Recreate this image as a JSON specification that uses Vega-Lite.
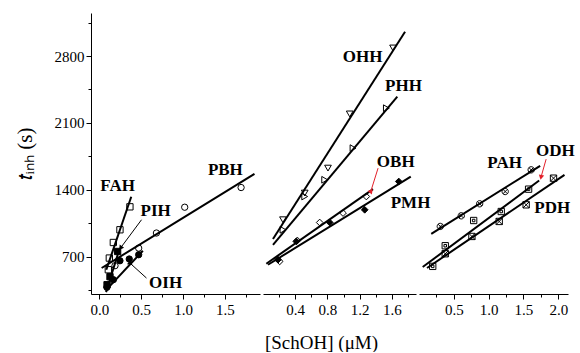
{
  "$schema": "https://vega.github.io/schema/vega-lite/v6.json",
  "padding": {"left": 14, "top": 13, "right": 0, "bottom": 0},
  "spacing": 3,
  "bounds": "flush",
  "config": {
    "view": {"stroke": null},
    "axis": {"grid": false, "domainColor": "black", "tickColor": "black", "labelColor": "black", "titleColor": "black", "labelFont": "Liberation Serif", "titleFont": "Liberation Serif", "labelFontSize": 15, "titleFontWeight": "normal", "domainWidth": 1, "tickWidth": 1}
  },
  "datasets": {
    "points": [
      {"panel": 1, "series": "FAH", "x": 0.107, "y": 564},
      {"panel": 1, "series": "FAH", "x": 0.119, "y": 686},
      {"panel": 1, "series": "FAH", "x": 0.167, "y": 849},
      {"panel": 1, "series": "FAH", "x": 0.246, "y": 982},
      {"panel": 1, "series": "FAH", "x": 0.365, "y": 1222},
      {"panel": 1, "series": "PIH", "x": 0.092, "y": 407},
      {"panel": 1, "series": "PIH", "x": 0.127, "y": 491},
      {"panel": 1, "series": "PIH", "x": 0.218, "y": 755},
      {"panel": 1, "series": "PBH", "x": 0.187, "y": 606},
      {"panel": 1, "series": "PBH", "x": 0.47, "y": 790},
      {"panel": 1, "series": "PBH", "x": 0.682, "y": 948},
      {"panel": 1, "series": "PBH", "x": 1.02, "y": 1218},
      {"panel": 1, "series": "PBH", "x": 1.694, "y": 1424},
      {"panel": 1, "series": "OIH", "x": 0.09, "y": 380},
      {"panel": 1, "series": "OIH", "x": 0.167, "y": 460},
      {"panel": 1, "series": "OIH", "x": 0.246, "y": 658},
      {"panel": 1, "series": "OIH", "x": 0.357, "y": 676},
      {"panel": 1, "series": "OIH", "x": 0.47, "y": 721},
      {"panel": 2, "series": "OHH", "x": 0.248, "y": 1087},
      {"panel": 2, "series": "OHH", "x": 0.518, "y": 1366},
      {"panel": 2, "series": "OHH", "x": 0.807, "y": 1627},
      {"panel": 2, "series": "OHH", "x": 1.077, "y": 2194},
      {"panel": 2, "series": "OHH", "x": 1.615, "y": 2884},
      {"panel": 2, "series": "PHH", "x": 0.248, "y": 982},
      {"panel": 2, "series": "PHH", "x": 0.518, "y": 1330},
      {"panel": 2, "series": "PHH", "x": 0.766, "y": 1505},
      {"panel": 2, "series": "PHH", "x": 1.118, "y": 1836},
      {"panel": 2, "series": "PHH", "x": 1.532, "y": 2254},
      {"panel": 2, "series": "OBH", "x": 0.207, "y": 651},
      {"panel": 2, "series": "OBH", "x": 0.426, "y": 870},
      {"panel": 2, "series": "OBH", "x": 0.704, "y": 1058},
      {"panel": 2, "series": "OBH", "x": 0.994, "y": 1157},
      {"panel": 2, "series": "OBH", "x": 1.283, "y": 1330},
      {"panel": 2, "series": "PMH", "x": 0.186, "y": 669},
      {"panel": 2, "series": "PMH", "x": 0.414, "y": 860},
      {"panel": 2, "series": "PMH", "x": 0.829, "y": 1058},
      {"panel": 2, "series": "PMH", "x": 1.263, "y": 1191},
      {"panel": 2, "series": "PMH", "x": 1.686, "y": 1487},
      {"panel": 3, "series": "PAH", "x": 0.306, "y": 1017},
      {"panel": 3, "series": "PAH", "x": 0.607, "y": 1128},
      {"panel": 3, "series": "PAH", "x": 0.871, "y": 1254},
      {"panel": 3, "series": "PAH", "x": 1.238, "y": 1382},
      {"panel": 3, "series": "PAH", "x": 1.611, "y": 1609},
      {"panel": 3, "series": "ODH", "x": 0.197, "y": 599},
      {"panel": 3, "series": "ODH", "x": 0.377, "y": 815},
      {"panel": 3, "series": "ODH", "x": 0.785, "y": 1079},
      {"panel": 3, "series": "ODH", "x": 1.181, "y": 1173},
      {"panel": 3, "series": "ODH", "x": 1.574, "y": 1407},
      {"panel": 3, "series": "PDH", "x": 0.377, "y": 731},
      {"panel": 3, "series": "PDH", "x": 0.76, "y": 912},
      {"panel": 3, "series": "PDH", "x": 1.152, "y": 1069},
      {"panel": 3, "series": "PDH", "x": 1.539, "y": 1243},
      {"panel": 3, "series": "PDH", "x": 1.932, "y": 1522}
    ],
    "lines": [
      {"panel": 1, "series": "FAH", "x": 0.083, "y": 564},
      {"panel": 1, "series": "FAH", "x": 0.381, "y": 1327},
      {"panel": 1, "series": "PIH", "x": 0.08, "y": 330},
      {"panel": 1, "series": "PIH", "x": 0.24, "y": 780},
      {"panel": 1, "series": "PBH", "x": 0.027, "y": 582},
      {"panel": 1, "series": "PBH", "x": 1.854, "y": 1567},
      {"panel": 1, "series": "OIH", "x": 0.107, "y": 376},
      {"panel": 1, "series": "OIH", "x": 0.52, "y": 763},
      {"panel": 2, "series": "OHH", "x": 0.124, "y": 885},
      {"panel": 2, "series": "OHH", "x": 1.764, "y": 3054},
      {"panel": 2, "series": "PHH", "x": 0.124, "y": 825},
      {"panel": 2, "series": "PHH", "x": 1.668, "y": 2375},
      {"panel": 2, "series": "OBH", "x": 0.041, "y": 627},
      {"panel": 2, "series": "OBH", "x": 1.366, "y": 1407},
      {"panel": 2, "series": "PMH", "x": 0.062, "y": 616},
      {"panel": 2, "series": "PMH", "x": 1.835, "y": 1539},
      {"panel": 3, "series": "PAH", "x": 0.176, "y": 940},
      {"panel": 3, "series": "PAH", "x": 1.74, "y": 1651},
      {"panel": 3, "series": "ODH", "x": 0.053, "y": 592},
      {"panel": 3, "series": "ODH", "x": 1.726, "y": 1497},
      {"panel": 3, "series": "PDH", "x": 0.115, "y": 582},
      {"panel": 3, "series": "PDH", "x": 2.09, "y": 1557}
    ],
    "arrows": [
      {"panel": 1, "series": "PIH", "x": 0.504, "y": 1087, "x2": 0.258, "y2": 797},
      {"panel": 1, "series": "OIH", "x": 0.563, "y": 477, "x2": 0.365, "y2": 634},
      {"panel": 2, "series": "OBH", "x": 1.429, "y": 1627, "x2": 1.338, "y2": 1382},
      {"panel": 3, "series": "ODH", "x": 1.826, "y": 1721, "x2": 1.755, "y2": 1539}
    ],
    "labels": [
      {"panel": 1, "label": "FAH", "x": 0.218, "y": 1437},
      {"panel": 1, "label": "PIH", "x": 0.673, "y": 1175},
      {"panel": 1, "label": "PBH", "x": 1.506, "y": 1609},
      {"panel": 1, "label": "OIH", "x": 0.792, "y": 423},
      {"panel": 2, "label": "OHH", "x": 1.238, "y": 2793},
      {"panel": 2, "label": "PHH", "x": 1.745, "y": 2482},
      {"panel": 2, "label": "OBH", "x": 1.648, "y": 1693},
      {"panel": 2, "label": "PMH", "x": 1.832, "y": 1259},
      {"panel": 3, "label": "PAH", "x": 1.229, "y": 1679},
      {"panel": 3, "label": "ODH", "x": 1.96, "y": 1810},
      {"panel": 3, "label": "PDH", "x": 1.913, "y": 1209}
    ]
  },
  "hconcat": [
    {
      "width": 169, "height": 281,
      "encoding": {
        "x": {"field": "x", "type": "quantitative", "scale": {"domain": [-0.1, 1.92], "nice": false, "zero": false},
              "axis": {"title": null, "values": [0, 0.25, 0.5, 0.75, 1, 1.25, 1.5, 1.75], "labelExpr": "datum.value % 0.5 === 0 ? format(datum.value, '.1f') : ''", "tickSize": {"condition": {"test": "datum.value % 0.5 === 0", "value": 5}, "value": 3}, "labelPadding": 3}},
        "y": {"field": "y", "type": "quantitative", "scale": {"domain": [310, 3250], "nice": false, "zero": false},
              "axis": {"title": "𝑡ᵢₙₕ (s)", "titleFontSize": 21, "titleX": -66, "titleBaseline": "middle", "values": [350, 700, 1050, 1400, 1750, 2100, 2450, 2800, 3150], "labelExpr": "datum.value % 700 === 0 ? format(datum.value, 'd') : ''", "tickSize": {"condition": {"test": "datum.value % 700 === 0", "value": 5}, "value": 3}, "labelPadding": 2}}
      },
      "layer": [
        {"data": {"name": "lines"}, "transform": [{"filter": "datum.panel === 1"}], "mark": {"type": "line", "color": "black", "strokeWidth": 2}, "encoding": {"detail": {"field": "series"}}},
        {"data": {"name": "points"}, "transform": [{"filter": "datum.panel === 1"}], "mark": {"type": "point", "stroke": "black", "strokeWidth": 1, "opacity": 1, "size": 40},
         "encoding": {
           "shape": {"field": "series", "type": "nominal", "legend": null, "scale": {"domain": ["FAH", "PIH", "PBH", "OIH", "OHH", "PHH", "OBH", "PMH", "PAH", "ODH", "PDH"], "range": ["square", "square", "circle", "circle", "triangle-down", "triangle-right", "diamond", "diamond", "M-1,0A1,1,0,1,0,1,0A1,1,0,1,0,-1,0ZM-0.71,-0.71L0.71,0.71M0.71,-0.71L-0.71,0.71", "M-1,-1H1V1H-1ZM-0.4,-0.4H0.4V0.4H-0.4Z", "M-1,-1H1V1H-1ZM-1,-1L1,1M1,-1L-1,1"]}},
           "fill": {"field": "series", "type": "nominal", "legend": null, "scale": {"domain": ["FAH", "PIH", "PBH", "OIH", "OHH", "PHH", "OBH", "PMH", "PAH", "ODH", "PDH"], "range": ["transparent", "black", "transparent", "black", "transparent", "transparent", "transparent", "black", "transparent", "transparent", "transparent"]}}
         }},
        {"data": {"name": "arrows"}, "transform": [{"filter": "datum.panel === 1"}], "mark": {"type": "rule", "strokeWidth": 1, "color": "black"}, "encoding": {"x2": {"field": "x2"}, "y2": {"field": "y2"}}},
        {"data": {"name": "arrows"}, "transform": [{"filter": "datum.panel === 1"}], "mark": {"type": "point", "shape": "triangle", "filled": true, "color": "black", "size": 30, "opacity": 1},
         "encoding": {"x": {"field": "x2", "type": "quantitative"}, "y": {"field": "y2", "type": "quantitative"}, "angle": {"field": "series", "type": "nominal", "legend": null, "scale": {"domain": ["PIH", "OIH", "OBH", "ODH"], "range": [217, 312, 197, 196]}}}},
        {"data": {"name": "labels"}, "transform": [{"filter": "datum.panel === 1"}], "mark": {"type": "text", "font": "Liberation Serif", "fontWeight": "bold", "fontSize": 17, "color": "black", "baseline": "middle"}, "encoding": {"text": {"field": "label"}}}
      ]
    },
    {
      "width": 153, "height": 281,
      "encoding": {
        "x": {"field": "x", "type": "quantitative", "scale": {"domain": [0, 1.9], "nice": false, "zero": false},
              "axis": {"title": "[SchOH] (μM)", "titleFontSize": 19, "titleX": 58, "titleY": 48, "titleBaseline": "middle", "titleAlign": "center", "values": [0.2, 0.4, 0.6, 0.8, 1.0, 1.2, 1.4, 1.6, 1.8], "labelExpr": "round(datum.value * 10) % 4 === 0 ? format(datum.value, '.1f') : ''", "tickSize": {"condition": {"test": "round(datum.value * 10) % 4 === 0", "value": 5}, "value": 3}, "labelPadding": 3}},
        "y": {"field": "y", "type": "quantitative", "scale": {"domain": [310, 3250], "nice": false, "zero": false}, "axis": null}
      },
      "layer": [
        {"data": {"name": "lines"}, "transform": [{"filter": "datum.panel === 2"}], "mark": {"type": "line", "color": "black", "strokeWidth": 2}, "encoding": {"detail": {"field": "series"}}},
        {"data": {"name": "points"}, "transform": [{"filter": "datum.panel === 2"}], "mark": {"type": "point", "stroke": "black", "strokeWidth": 1, "opacity": 1, "size": 45},
         "encoding": {
           "shape": {"field": "series", "type": "nominal", "legend": null},
           "fill": {"field": "series", "type": "nominal", "legend": null}
         }},
        {"data": {"name": "arrows"}, "transform": [{"filter": "datum.panel === 2"}], "mark": {"type": "rule", "strokeWidth": 1, "color": "#e3202a"}, "encoding": {"x2": {"field": "x2"}, "y2": {"field": "y2"}}},
        {"data": {"name": "arrows"}, "transform": [{"filter": "datum.panel === 2"}], "mark": {"type": "point", "shape": "triangle", "filled": true, "color": "#e3202a", "size": 30, "opacity": 1},
         "encoding": {"x": {"field": "x2", "type": "quantitative"}, "y": {"field": "y2", "type": "quantitative"}, "angle": {"field": "series", "type": "nominal", "legend": null}}},
        {"data": {"name": "labels"}, "transform": [{"filter": "datum.panel === 2"}], "mark": {"type": "text", "font": "Liberation Serif", "fontWeight": "bold", "fontSize": 17, "color": "black", "baseline": "middle"}, "encoding": {"text": {"field": "label"}}}
      ]
    },
    {
      "width": 149, "height": 281,
      "encoding": {
        "x": {"field": "x", "type": "quantitative", "scale": {"domain": [0, 2.14], "nice": false, "zero": false},
              "axis": {"title": null, "values": [0.25, 0.5, 0.75, 1.0, 1.25, 1.5, 1.75, 2.0], "labelExpr": "datum.value % 0.5 === 0 ? format(datum.value, '.1f') : ''", "tickSize": {"condition": {"test": "datum.value % 0.5 === 0", "value": 5}, "value": 3}, "labelPadding": 3}},
        "y": {"field": "y", "type": "quantitative", "scale": {"domain": [310, 3250], "nice": false, "zero": false}, "axis": null}
      },
      "layer": [
        {"data": {"name": "lines"}, "transform": [{"filter": "datum.panel === 3"}], "mark": {"type": "line", "color": "black", "strokeWidth": 2}, "encoding": {"detail": {"field": "series"}}},
        {"data": {"name": "points"}, "transform": [{"filter": "datum.panel === 3"}], "mark": {"type": "point", "stroke": "black", "strokeWidth": 1, "opacity": 1, "size": 40},
         "encoding": {
           "shape": {"field": "series", "type": "nominal", "legend": null},
           "fill": {"field": "series", "type": "nominal", "legend": null}
         }},
        {"data": {"name": "arrows"}, "transform": [{"filter": "datum.panel === 3"}], "mark": {"type": "rule", "strokeWidth": 1, "color": "#e3202a"}, "encoding": {"x2": {"field": "x2"}, "y2": {"field": "y2"}}},
        {"data": {"name": "arrows"}, "transform": [{"filter": "datum.panel === 3"}], "mark": {"type": "point", "shape": "triangle", "filled": true, "color": "#e3202a", "size": 30, "opacity": 1},
         "encoding": {"x": {"field": "x2", "type": "quantitative"}, "y": {"field": "y2", "type": "quantitative"}, "angle": {"field": "series", "type": "nominal", "legend": null}}},
        {"data": {"name": "labels"}, "transform": [{"filter": "datum.panel === 3"}], "mark": {"type": "text", "font": "Liberation Serif", "fontWeight": "bold", "fontSize": 17, "color": "black", "baseline": "middle"}, "encoding": {"text": {"field": "label"}}}
      ]
    }
  ]
}
